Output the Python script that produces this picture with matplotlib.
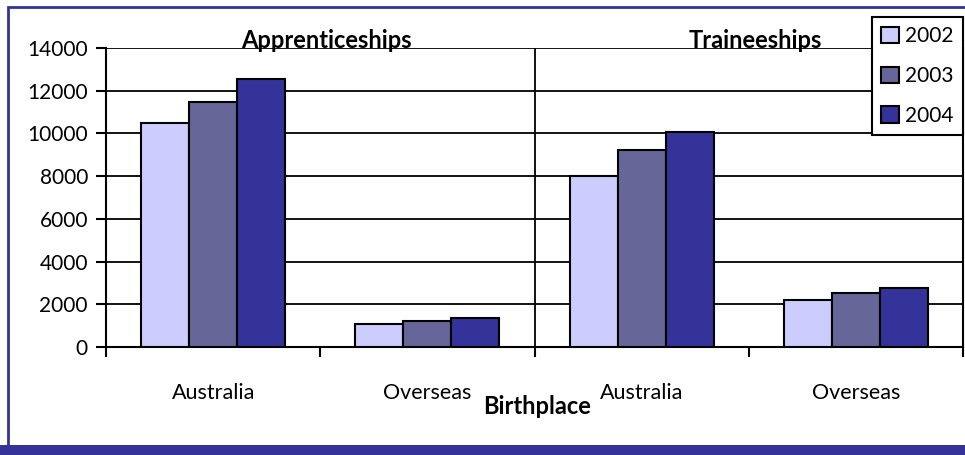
import numpy as np
import matplotlib
matplotlib.use("Agg")
import matplotlib.pyplot as plt
from matplotlib.patches import Rectangle

# data
years = ["2002", "2003", "2004"]
categories = ["Australia", "Overseas", "Australia", "Overseas"]
groups = ["Apprenticeships", "Traineeships"]
v2002 = [10500, 1100, 8030, 2200]
v2003 = [11450, 1200, 9220, 2550]
v2004 = [12560, 1370, 10060, 2780]
yticks = [0, 2000, 4000, 6000, 8000, 10000, 12000, 14000]

colors = ["#CCCCFF", "#666699", "#333399"]
plt.rcParams["font.family"] = ["Lato", "DejaVu Sans"]

fig = plt.figure(figsize=(9.65, 4.55), dpi=100)
ax = fig.add_axes([106 / 965, 1 - 347 / 455, (963 - 106) / 965, (347 - 48) / 455])

x = np.arange(len(categories)) + 0.5
w = 0.224
for i, vals in enumerate([v2002, v2003, v2004]):
    ax.bar(x + (i - 1) * w, vals, w, color=colors[i], edgecolor="black",
           linewidth=1.5, label=years[i], zorder=3)

ax.set_xlim(0, 4)
ax.set_ylim(0, 14000)
ax.set_yticks(yticks)
ax.set_yticklabels([str(t) for t in yticks], fontsize=15)
ax.yaxis.grid(True, color="black", linewidth=1.3, zorder=0)
ax.axvline(2, color="black", linewidth=1.3, zorder=1)

ax.set_xticks([0, 1, 2, 3, 4])
ax.set_xticklabels([])
ax.set_xticks(x, minor=True)
ax.set_xticklabels(categories, minor=True, fontsize=15.5)
ax.tick_params(axis="x", which="minor", length=0, pad=26)
ax.tick_params(axis="x", which="major", direction="out", length=7, width=1.5)
ax.tick_params(axis="y", direction="out", length=7, width=1.5, pad=6)

ax.spines["top"].set_visible(False)
for side in ["left", "bottom", "right"]:
    ax.spines[side].set_linewidth(1.5)

for k, g in enumerate(groups):
    ax.text(1 + 2 * k + 0.03, 1.0, g, transform=ax.get_xaxis_transform(),
            ha="center", va="baseline", fontsize=17, fontweight="bold", zorder=5)

fig.text(537 / 965, 1 - 407 / 455, "Birthplace", ha="center", va="center",
         fontsize=17, fontweight="bold")

leg = ax.legend(loc="upper right", bbox_to_anchor=(963 / 965, 1 - 17 / 455),
                bbox_transform=fig.transFigure, fontsize=15, fancybox=False,
                framealpha=1, edgecolor="black", handlelength=0.85,
                handleheight=0.85, handletextpad=0.3, labelspacing=0.95,
                borderpad=0.45, borderaxespad=0)
leg.get_frame().set_linewidth(1.5)

# outer frame and bottom strip
fig.patches.append(Rectangle((8 / 965, 0), 1.1, 1 - 7 / 455, transform=fig.transFigure,
                             fill=False, edgecolor="#333399", linewidth=2))
fig.patches.append(Rectangle((0, 0), 1, 10 / 455, transform=fig.transFigure,
                             facecolor="#333399", edgecolor="none"))

fig.savefig("out.png", dpi=100)
